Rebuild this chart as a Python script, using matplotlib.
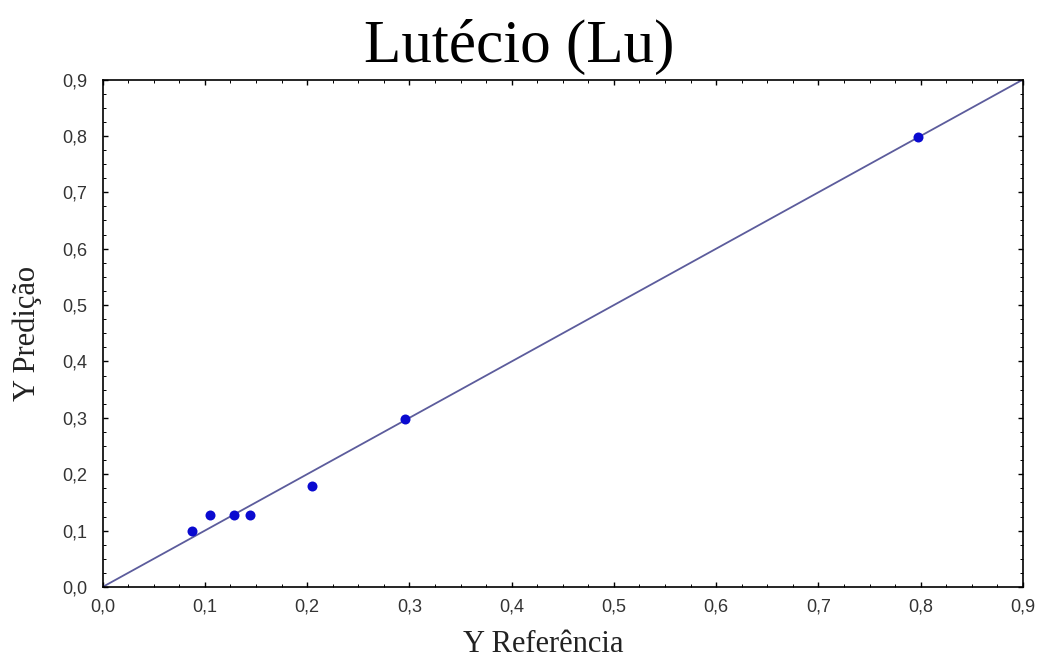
import matplotlib
matplotlib.use("Agg")
import matplotlib.pyplot as plt
from matplotlib.ticker import MultipleLocator

x_ref = [0.087, 0.105, 0.129, 0.1445, 0.205, 0.2955, 0.7975]
y_pred = [0.099, 0.128, 0.128, 0.128, 0.179, 0.2975, 0.798]
line_x = [0.0, 0.9]
line_y = [0.0, 0.9]
ticks = [0.0, 0.1, 0.2, 0.3, 0.4, 0.5, 0.6, 0.7, 0.8, 0.9]
tick_labels = ["0,0", "0,1", "0,2", "0,3", "0,4", "0,5", "0,6", "0,7", "0,8", "0,9"]

fig = plt.figure(figsize=(10.39, 6.60), dpi=100)
ax = fig.add_axes([0.0987, 0.1106, 0.8859, 0.7689])

ax.plot(line_x, line_y, color="#5c5c9c", lw=1.3, zorder=2)
ax.plot(x_ref, y_pred, "o", color="#0a0ad0", markersize=7.2, markeredgewidth=0, zorder=3)

ax.set_xlim(0, 0.9)
ax.set_ylim(0, 0.9)
ax.set_xticks(ticks)
ax.set_xticklabels(tick_labels)
ax.set_yticks(ticks)
ax.set_yticklabels(tick_labels)
ax.xaxis.set_minor_locator(MultipleLocator(0.025))
ax.yaxis.set_minor_locator(MultipleLocator(0.025))
ax.tick_params(which="both", direction="in", top=True, right=True, colors="black")
ax.tick_params(which="major", length=3.5, width=1)
ax.tick_params(which="minor", length=2, width=0.7)
ax.tick_params(axis="y", which="major", pad=11)
ax.tick_params(axis="x", which="major", pad=8)
for lab in ax.get_xticklabels() + ax.get_yticklabels():
    lab.set_fontfamily("Liberation Sans")
    lab.set_fontsize(13)
    lab.set_color("#333333")
for s in ax.spines.values():
    s.set_linewidth(1.2)
    s.set_color("black")

fig.text(0.50, 0.906, "Lutécio (Lu)", family="Liberation Serif", fontsize=44,
         ha="center", va="baseline")
fig.text(0.523, 0.012, "Y Referência", family="Liberation Serif", fontsize=22,
         ha="center", va="baseline", color="#222222")
fig.text(0.026, 0.495, "Y Predição", family="Liberation Serif", fontsize=22,
         ha="center", va="center", rotation=90, color="#222222")

fig.savefig("out.png", dpi=100)
